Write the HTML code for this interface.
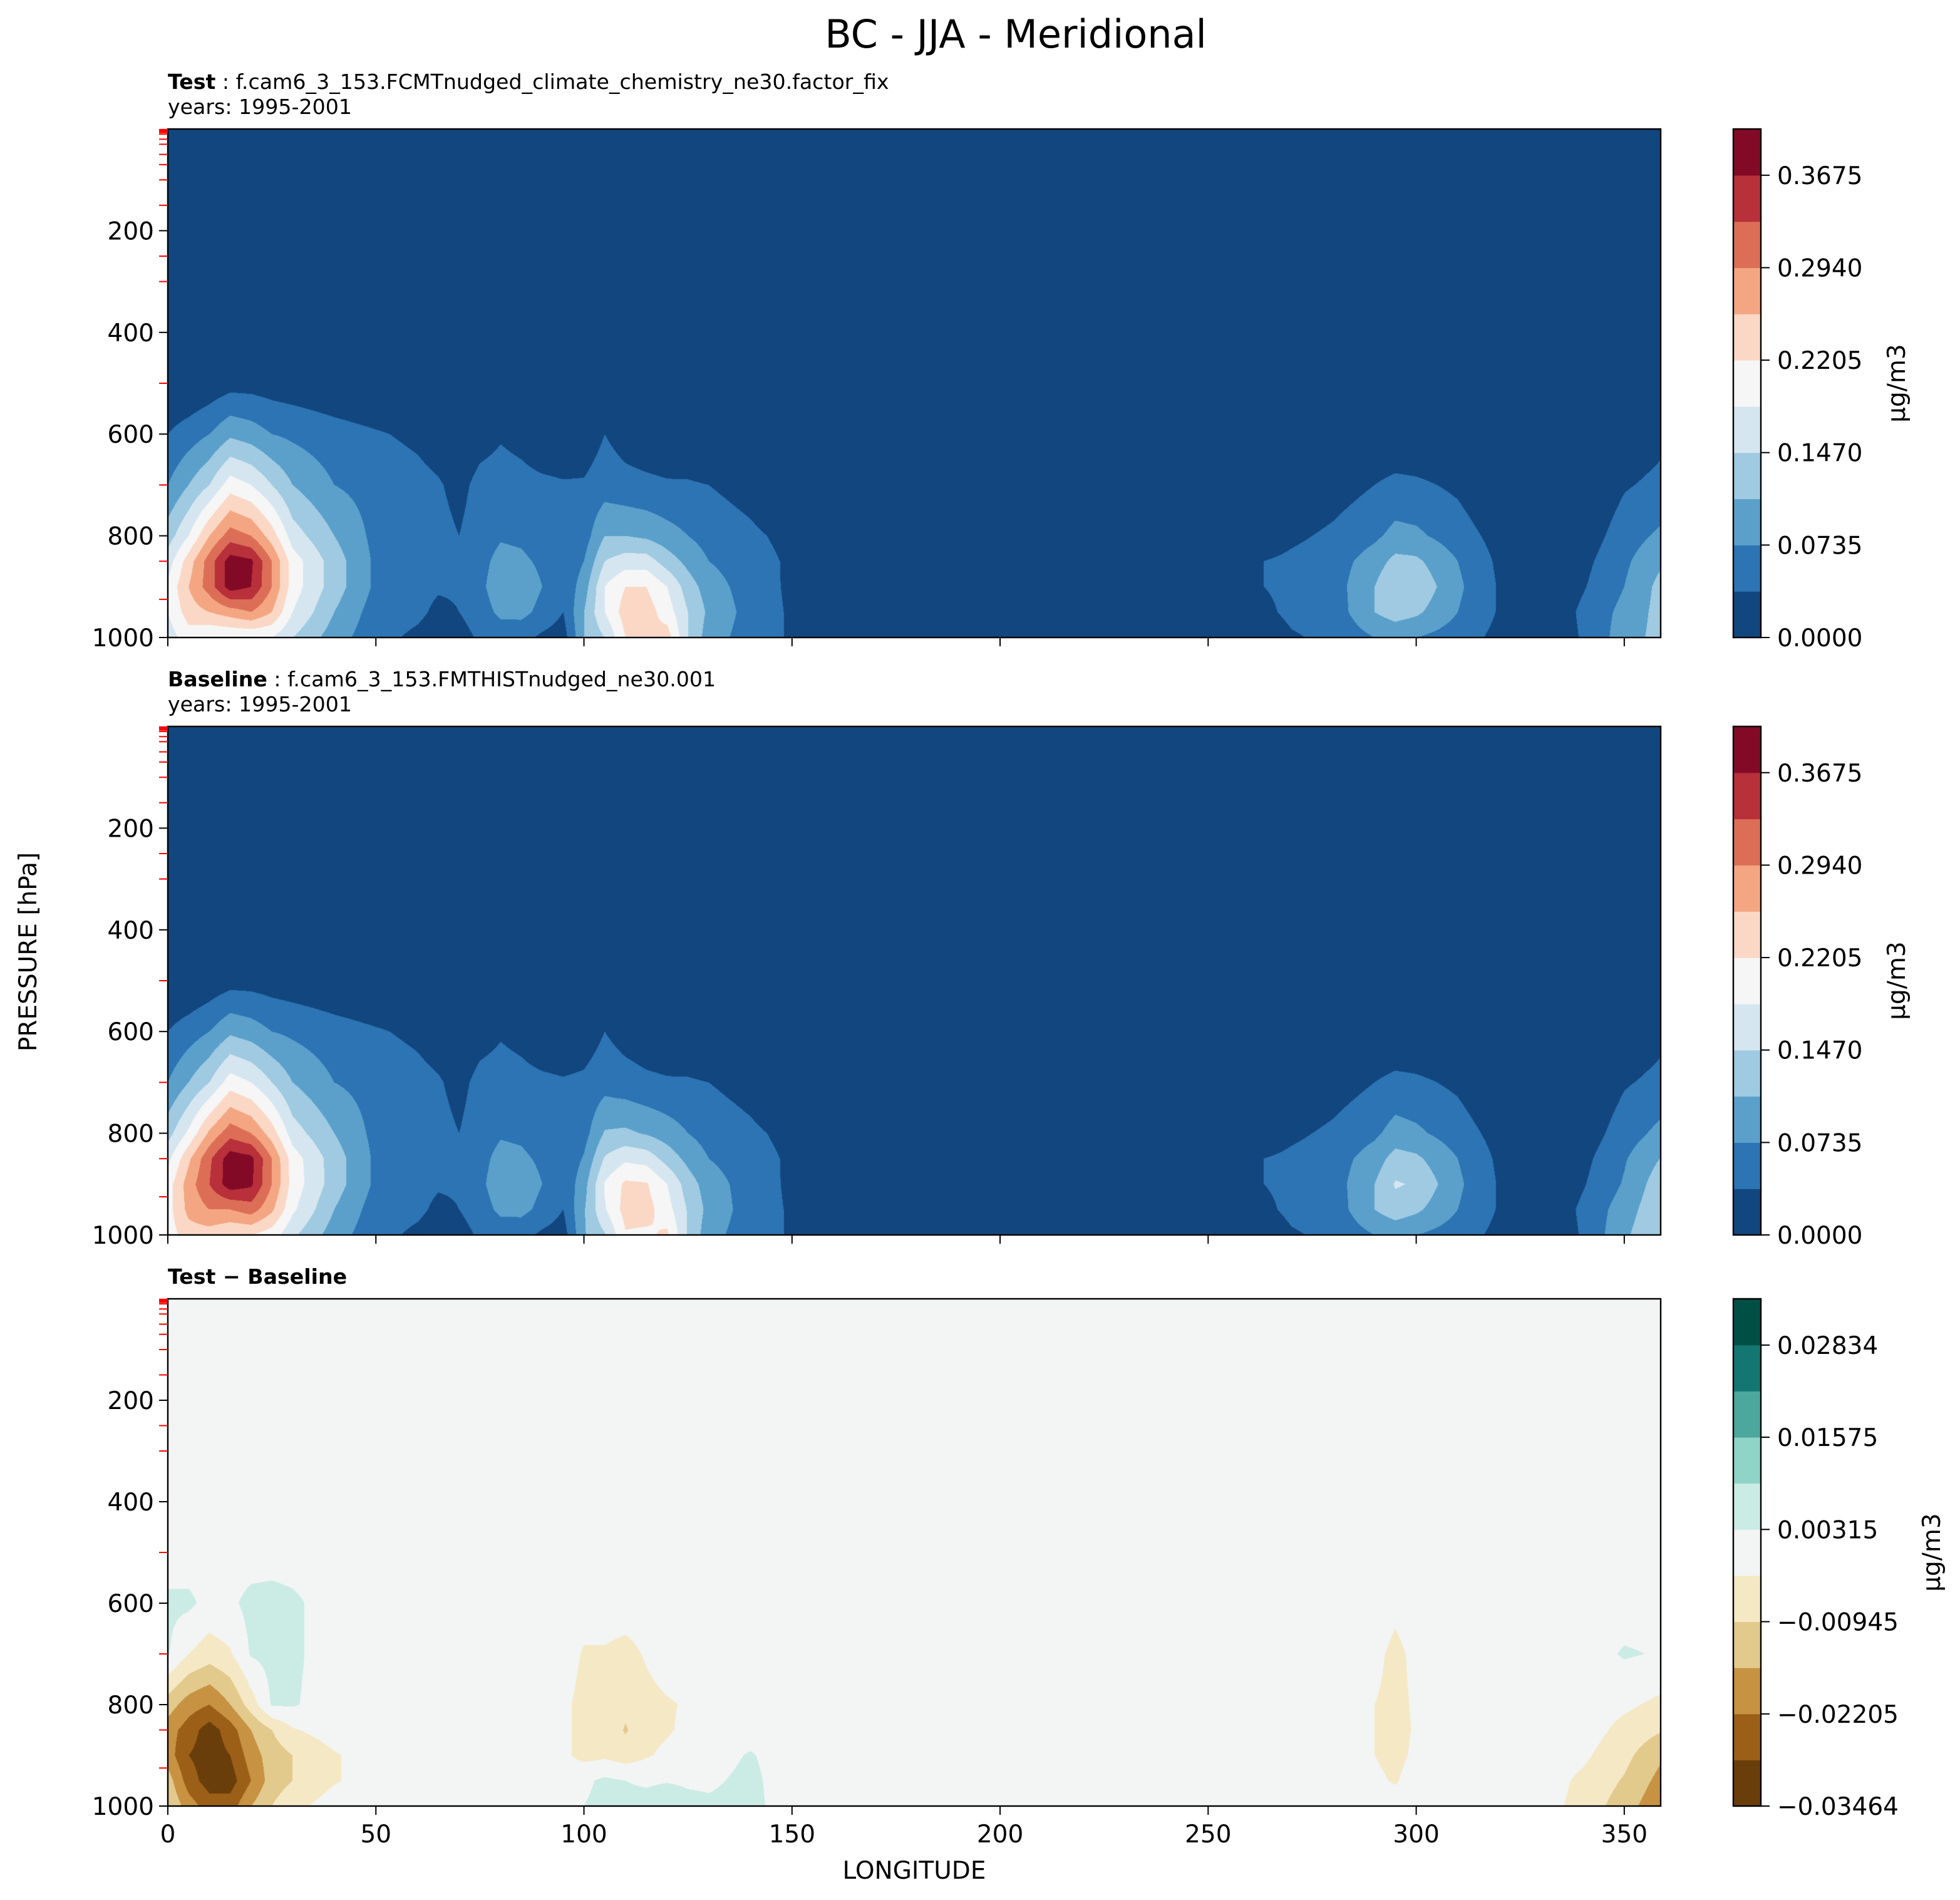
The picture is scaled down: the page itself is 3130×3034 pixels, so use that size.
<!DOCTYPE html>
<html><head><meta charset="utf-8"><style>
html,body{margin:0;padding:0;background:#fff;}
#wrap{position:relative;width:3130px;height:3034px;overflow:hidden;}
canvas{position:absolute;}
svg{position:absolute;left:0;top:0;}
text{font-family:"DejaVu Sans","Liberation Sans",sans-serif;fill:#000;}
</style></head><body>
<div id="wrap">
<canvas id="c1"></canvas>
<canvas id="c2"></canvas>
<canvas id="c3"></canvas>
<svg id="svg" width="3130" height="3034" viewBox="0 0 1565 1517"></svg>
</div>
<script>
// ---- data ----
const lons = [0,5,10,15,20,25,30,40,50,60,65,70,75,80,85,90,95,100,105,110,115,120,125,130,140,148,160,250,260,270,280,290,295,300,310,320,330,340,350,360];
const pressures = [500,600,700,800,850,900,950,1000];
// values in contour-level units (1 unit = 0.03675 ug/m3); one array per longitude column (p: 500..1000)
const testBC = [
[0,1,2,3.5,4.5,5.2,5,4.5],[0,1.5,3,5,6.5,7,6.5,5.5],[0.3,2,4,7,8.5,8.5,7,5],[0.6,2.8,5.5,8.5,10.5,10.5,7.5,5],
[0.6,2.5,5,8,10.2,10,8,5],[0.5,2,4,6.5,8,8,7,5],[0.4,1.8,3,4.5,5.5,5.5,5,4],[0.2,1.4,2,3,3.5,3.5,3,2.5],
[0,1.1,1.6,1.7,1.8,1.8,1.5,1.3],[0,0.8,1.3,1.4,1.4,1.3,1.2,0.8],[0,0.5,1.1,1.3,1.2,1.1,0.8,0.5],[0,0.2,0.7,1,1,1.1,1,0.5],
[0,0.6,1.3,1.5,1.7,1.8,1.6,1.2],[0,0.9,1.4,1.9,2.3,2.5,2.2,1.5],[0,0.7,1.3,1.8,2.2,2.6,2.3,1.3],[0,0.3,1.2,1.4,1.8,2,1.7,0.8],
[0,0.2,1.1,1.2,1.2,1.2,1,0.5],[0,0.4,1.1,1.5,2,2.5,3,3],[0,1,1.5,3,4,5,5,4],[0,0.6,1.3,3,4.5,6,6.5,6],
[0,0.4,1.2,2.8,4.5,6,6.5,6],[0,0.3,1.1,2.4,3.5,5,5.5,6.5],[0,0.2,1.1,2,2.7,3.5,4,4],[0,0,1,1.6,2,2.5,2.8,2.5],
[0,0,0.6,1.2,1.4,1.5,1.6,1.5],[0,0,0,0.8,0.95,0.95,1,1],[0,0,0,0,0,0,0,0],[0,0,0,0,0,0,0,0],
[0,0,0,0.2,0.9,0.9,0.6,0.2],[0,0,0,0.8,1.2,1.2,1.2,0.9],[0,0,0.5,1.2,1.5,1.5,1.4,1.2],[0,0,1,1.8,2.5,3,3,2],
[0,0,1.3,2.3,3.3,4,3.5,2.2],[0,0,1.2,2.2,3.2,3.8,3.2,2],[0,0,0.8,1.5,2,2.2,2,1.5],[0,0,0,0.6,0.8,0.9,0.9,0.7],
[0,0,0,0,0,0,0,0],[0,0,0,0.4,0.7,0.9,1.2,1.1],[0,0.3,0.9,1.5,1.8,2,2.3,2.5],[0,0.8,1.3,2.3,3,3.5,3.5,3.5]];
const baseBC = [
[0,1,2,3.6,4.7,5.5,5.6,5.5],[0,1.5,3,5.2,6.8,7.5,7.3,6.5],[0.3,2,4,7.2,8.8,9,8,6.5],[0.6,2.8,5.5,8.6,10.6,10.6,8,6],
[0.6,2.5,5,8,10.3,10.2,8.5,6],[0.5,2,4,6.5,8,8,7.2,5.5],[0.4,1.8,3,4.5,5.5,5.6,5.2,4.2],[0.2,1.4,2,3,3.5,3.5,3,2.5],
[0,1.1,1.6,1.7,1.8,1.8,1.5,1.3],[0,0.8,1.3,1.4,1.4,1.3,1.2,0.8],[0,0.5,1.1,1.3,1.2,1.1,0.8,0.5],[0,0.2,0.7,1,1,1.1,1,0.5],
[0,0.6,1.3,1.5,1.7,1.8,1.6,1.2],[0,0.9,1.4,1.9,2.3,2.5,2.2,1.5],[0,0.7,1.3,1.8,2.2,2.6,2.3,1.3],[0,0.3,1.2,1.4,1.8,2,1.7,0.8],
[0,0.2,1.1,1.2,1.2,1.2,1,0.5],[0,0.4,1.2,1.6,2.1,2.6,2.9,2.9],[0,1,1.6,3.1,4.1,5.1,4.9,3.9],[0,0.6,1.4,3.2,4.8,6.2,6.4,5.9],
[0,0.4,1.2,2.9,4.6,6.1,6.4,5.8],[0,0.3,1.1,2.5,3.6,5,5.4,6.2],[0,0.2,1.1,2,2.7,3.5,3.9,3.9],[0,0,1,1.6,2,2.5,2.7,2.4],
[0,0,0.6,1.2,1.4,1.5,1.5,1.4],[0,0,0,0.8,0.95,0.95,1,1],[0,0,0,0,0,0,0,0],[0,0,0,0,0,0,0,0],
[0,0,0,0.2,0.9,0.9,0.6,0.2],[0,0,0,0.8,1.2,1.2,1.2,0.9],[0,0,0.5,1.2,1.5,1.5,1.4,1.2],[0,0,1,1.8,2.5,3,3,2],
[0,0,1.3,2.4,3.4,4.1,3.6,2.2],[0,0,1.2,2.2,3.2,3.9,3.2,2],[0,0,0.8,1.5,2,2.2,2,1.5],[0,0,0,0.6,0.8,0.9,0.9,0.7],
[0,0,0,0,0,0,0,0],[0,0,0,0.4,0.7,0.9,1.2,1.1],[0,0.3,0.9,1.5,1.9,2.1,2.5,2.8],[0,0.8,1.3,2.4,3.2,3.8,4,4.2]];
// difference in units of 0.0063 ug/m3
const diffBC = [
[0,0.7,0.6,-2,-3,-3,-2,-1.5],[0,0.7,-0.5,-3,-4,-4.5,-4,-3],[0,0.2,-1,-3.5,-5,-5,-5,-4],[0,0.3,-0.6,-2.5,-4,-4.5,-5,-4],
[0,0.8,0.6,-1,-2.5,-3,-3.5,-2.5],[0,0.9,0.8,0.6,-1.5,-2,-2,-1.5],[0,0.7,0.7,0.6,-0.6,-1.5,-1.5,-0.8],[0,0,0,0,0,-0.6,-0.6,0],
[0,0,0,0,0,0,0,0],[0,0,0,0,0,0,0,0],[0,0,0,0,0,0,0,0],[0,0,0,0,0,0,0,0],
[0,0,0,0,0,0,0,0],[0,0,0,0,0,0,0,0],[0,0,0,0,0,0,0,0],[0,0,0,0,0,0,0,0],
[0,0,0,-0.3,-0.3,-0.3,0,0],[0,0,-0.6,-0.8,-0.8,-0.8,0.3,0.5],[0,0,-0.6,-0.7,-0.8,-0.7,0.7,0.8],[0,0,-0.8,-1.2,-1.6,-1,0.5,0.9],
[0,0,-0.4,-0.8,-0.8,-0.6,0.3,1],[0,0,0,-0.6,-0.6,-0.3,0.4,1.5],[0,0,0,-0.4,-0.3,0,0.3,0.9],[0,0,0,0,0,0,0.3,0.7],
[0,0,0,0,0,0.6,0.8,0.9],[0,0,0,0,0,0,0,0],[0,0,0,0,0,0,0,0],[0,0,0,0,0,0,0,0],
[0,0,0,0,0,0,0,0],[0,0,0,0,0,0,0,0],[0,0,0,0,0,0,0,0],[0,0,-0.3,-0.5,-0.5,-0.5,-0.3,0.2],
[0,-0.3,-0.7,-0.7,-0.8,-0.8,-0.6,0],[0,0,-0.3,-0.4,-0.4,-0.3,0,0],[0,0,0,0,0,0.3,0.4,0],[0,0,0,0,0,0,0,0],
[0,0,0,0,0,0,0,0],[0,0,0,0,0,-0.3,-0.7,-0.9],[0,0,0.6,-0.3,-0.8,-1.2,-1.6,-2],[0,0,0.4,-0.8,-1.5,-2.5,-3,-3.5]];
const bcTicks = ["0.0000","0.0735","0.1470","0.2205","0.2940","0.3675"];
const bcTickVals = [0,0.0735,0.147,0.2205,0.294,0.3675];
const diffTicks = ["\u22120.03464","\u22120.02205","\u22120.00945","0.00315","0.01575","0.02834"];
const diffTickVals = [-0.03464,-0.02205,-0.00945,0.00315,0.01575,0.02834];
const xTicks = [0,50,100,150,200,250,300,350];
const yTicks = [200,400,600,800,1000];
const modelLevels = [1,2,3,4,5,7,10,20,30,50,70,100,150,250,300,500,700,850,925];

const bcColors = ["#12467f","#2c74b3","#5aa0cb","#9fcae1","#d5e6f0","#f6f6f6","#fbd8c5","#f4a683","#dc6e58","#b8303a","#830a27"];
const brColors = ["#6a3e0a","#9c5f18","#c79242","#e2c98c","#f5e8c5","#f3f5f4","#cbebe5","#8fd4c6","#4ca79c","#137671","#004f45"];

// ---- geometry (viewBox units, 1 = 2px) ----
const X0=134, X1=1326, LONMAX=358.75;
const FS=19.5, SFS=16.6;
const panels=[{y0:103,y1:509},{y0:580,y1:986},{y0:1037,y1:1442}];
const xs = l => X0 + l/LONMAX*(X1-X0);
const ys = (p,pn) => pn.y0 + p/1000*(pn.y1-pn.y0);
const NS='http://www.w3.org/2000/svg';
const svg=document.getElementById('svg');
function el(tag,attrs,txt){const e=document.createElementNS(NS,tag);for(const k in attrs)e.setAttribute(k,attrs[k]);if(txt!==undefined)e.textContent=txt;svg.appendChild(e);return e;}

function sample(grid,lon,p,outside){
  if(p<pressures[0]) return outside;
  let i=0; while(i<lons.length-2 && lon>lons[i+1]) i++;
  let j=0; while(j<pressures.length-2 && p>pressures[j+1]) j++;
  const tx=Math.min(1,Math.max(0,(lon-lons[i])/(lons[i+1]-lons[i])));
  const ty=Math.min(1,Math.max(0,(p-pressures[j])/(pressures[j+1]-pressures[j])));
  const a=grid[i][j],b=grid[i+1][j],c=grid[i][j+1],d=grid[i+1][j+1];
  return (a*(1-tx)+b*tx)*(1-ty)+(c*(1-tx)+d*tx)*ty;
}
function hex(h){return [parseInt(h.substr(1,2),16),parseInt(h.substr(3,2),16),parseInt(h.substr(5,2),16)];}
function drawField(id,pn,grid,colors,bandFn){
  const cv=document.getElementById(id);
  const W=(X1-X0)*2,H=(pn.y1-pn.y0)*2;
  cv.width=W;cv.height=H;cv.style.left=(X0*2)+'px';cv.style.top=(pn.y0*2)+'px';
  const ctx=cv.getContext('2d');const img=ctx.createImageData(W,H);
  const cols=colors.map(hex);
  for(let y=0;y<H;y++){const p=(y+0.5)/H*1000;
    for(let x=0;x<W;x++){const lon=(x+0.5)/W*LONMAX;
      const v=sample(grid,lon,p,0);let k=bandFn(v);k=Math.max(0,Math.min(10,k));
      const c=cols[k];const o=(y*W+x)*4;img.data[o]=c[0];img.data[o+1]=c[1];img.data[o+2]=c[2];img.data[o+3]=255;}}
  ctx.putImageData(img,0,0);
}
drawField('c1',panels[0],testBC,bcColors,v=>Math.floor(v));
drawField('c2',panels[1],baseBC,bcColors,v=>Math.floor(v));
drawField('c3',panels[2],diffBC,brColors,v=>Math.floor(v+0.5)+5);

let t=el('text',{x:811,y:38,'font-size':31,'text-anchor':'middle'},'BC - JJA - Meridional');


const subt=[["Test"," : f.cam6_3_153.FCMTnudged_climate_chemistry_ne30.factor_fix",true],["Baseline"," : f.cam6_3_153.FMTHISTnudged_ne30.001",true],["Test \u2212 Baseline","",false]];
panels.forEach((pn,pi)=>{
  const s=el('text',{x:X0,y:pn.y0-(pi<2?32:12),'font-size':SFS});
  
  const b=document.createElementNS(NS,'tspan');b.setAttribute('font-weight','bold');b.textContent=subt[pi][0];s.appendChild(b);
  if(subt[pi][1]){const r=document.createElementNS(NS,'tspan');r.textContent=subt[pi][1];s.appendChild(r);}
  if(subt[pi][2]){const yr=el('text',{x:X0,y:pn.y0-12,'font-size':SFS},'years: 1995-2001');
    }
  const f=el('rect',{x:X0,y:pn.y0,width:X1-X0,height:pn.y1-pn.y0,fill:'none',stroke:'#000','stroke-width':1.2});
  
  modelLevels.forEach(p=>{const yy=ys(p,pn);const m=el('line',{x1:X0-7,x2:X0,y1:yy,y2:yy,stroke:'#f00','stroke-width':1});
    });
  yTicks.forEach(p=>{const yy=ys(p,pn);el('line',{x1:X0-7,x2:X0,y1:yy,y2:yy,stroke:'#000','stroke-width':1});
    const l=el('text',{x:X0-11,y:yy+7,'font-size':FS,'text-anchor':'end'},String(p));
    });
  xTicks.forEach(v=>{const xx=xs(v);el('line',{x1:xx,x2:xx,y1:pn.y1,y2:pn.y1+7,stroke:'#000','stroke-width':1});
    if(pi===2){const l=el('text',{x:xx,y:pn.y1+29,'font-size':FS,'text-anchor':'middle'},String(v));
      }});
  const cx0=1384,cx1=1406,colors=pi<2?bcColors:brColors;const bh=(pn.y1-pn.y0)/11;
  colors.forEach((c,k)=>{const r=el('rect',{x:cx0,y:pn.y1-(k+1)*bh,width:cx1-cx0,height:bh+0.3,fill:c});
    });
  const cf=el('rect',{x:cx0,y:pn.y0,width:cx1-cx0,height:pn.y1-pn.y0,fill:'none',stroke:'#000','stroke-width':1.2});
  
  const tv=pi<2?bcTickVals:diffTickVals,tl=pi<2?bcTicks:diffTicks;
  const vmin=pi<2?0:-0.03464,vmax=pi<2?0.40425:0.03466;
  tv.forEach((v,k)=>{const yy=pn.y1-(v-vmin)/(vmax-vmin)*(pn.y1-pn.y0);
    el('line',{x1:cx1,x2:cx1+7,y1:yy,y2:yy,stroke:'#000','stroke-width':1});
    const l=el('text',{x:cx1+13,y:yy+7,'font-size':FS},tl[k]);
    });
  const lx=pi<2?1521:1549,ly=(pn.y0+pn.y1)/2;
  const u=el('text',{x:lx,y:ly,'font-size':FS,'text-anchor':'middle',transform:`rotate(-90 ${lx} ${ly})`},'\u03bcg/m3');
  
});
t=el('text',{x:730,y:1500,'font-size':FS,'text-anchor':'middle'},'LONGITUDE');

t=el('text',{x:29,y:760,'font-size':FS,'text-anchor':'middle',transform:'rotate(-90 29 760)'},'PRESSURE [hPa]');

</script>
</body></html>
